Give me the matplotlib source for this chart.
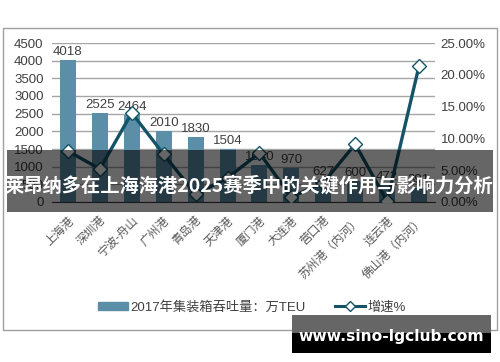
import matplotlib
matplotlib.use("Agg")
import matplotlib.pyplot as plt
from matplotlib.patches import Rectangle
from matplotlib.lines import Line2D
import numpy as np

plt.rcParams['font.family'] = ['Liberation Sans', 'Noto Sans CJK SC', 'DejaVu Sans']

categories = ['上海港', '深圳港', '宁波-舟山', '广州港', '青岛港', '天津港', '厦门港',
              '大连港', '营口港', '苏州港（内河）', '连云港', '佛山港（内河）']
throughput = [4018, 2525, 2464, 2010, 1830, 1504, 1040, 970, 627, 600, 472, 391]
growth = [8.0, 5.2, 14.0, 7.5, 1.2, 3.8, 7.7, 0.8, 3.0, 9.1, 0.1, 21.4]
left_ticks = [0, 500, 1000, 1500, 2000, 2500, 3000, 3500, 4000, 4500]
right_ticks = [0, 5, 10, 15, 20, 25]

bar_color = '#5b8fa8'
line_color = '#145468'
text_color = '#404040'

fig = plt.figure(figsize=(5.0, 3.62), dpi=100)
W, H = 500, 362

# chart border
fig.patches.append(Rectangle((3 / W, 1 - 330 / H), 494 / W, 302 / H, transform=fig.transFigure,
                             fill=False, edgecolor='#a0a0a0', linewidth=1.0))

ax = fig.add_axes([52 / W, 1 - 202 / H, 383 / W, 159 / H])
x = np.arange(len(categories))
ax.bar(x, throughput, width=0.5, color=bar_color, zorder=2)
ax.set_xlim(-0.5, len(categories) - 0.5)
ax.set_ylim(0, 4500)
ax.set_yticks(left_ticks)
ax.set_yticklabels([str(t) for t in left_ticks], fontsize=9.5, color=text_color)
ax.yaxis.grid(True, color='#a6a6a6', linewidth=1.0, zorder=0)
ax.set_axisbelow(True)
for s in ['top', 'right', 'left']:
    ax.spines[s].set_visible(False)
ax.spines['bottom'].set_color('#404040')
ax.tick_params(axis='y', length=0, pad=6)
ax.tick_params(axis='x', length=0, pad=9)
ax.set_xticks(x)
ax.set_xticklabels(categories, rotation=45, ha='right', rotation_mode='anchor',
                   fontsize=8.5, color='#595959')
for xi, v in zip(x, throughput):
    ax.text(xi, v + 60, str(v), ha='center', va='bottom', fontsize=9.5, color=text_color, zorder=5)

ax2 = ax.twinx()
ax2.plot(x, growth, color=line_color, linewidth=2.4, marker='D', markersize=7,
         markerfacecolor='white', markeredgecolor=line_color, markeredgewidth=1.0, zorder=4)
ax2.set_ylim(0, 25)
ax2.set_yticks(right_ticks)
ax2.set_yticklabels(['%.2f%%' % t for t in right_ticks], fontsize=9.5, color=text_color)
ax2.tick_params(axis='y', length=0, pad=4)
for s in ['top', 'right', 'left', 'bottom']:
    ax2.spines[s].set_visible(False)

# legend
handles = [Rectangle((0, 0), 1, 1, color=bar_color),
           Line2D([0], [0], color=line_color, linewidth=2.2, marker='D', markersize=5,
                  markerfacecolor='white', markeredgecolor=line_color)]
fig.legend(handles, ['2017年集装箱吞吐量：万TEU', '增速%'], loc='center',
           bbox_to_anchor=(252 / W, 1 - 307 / H), ncol=2, frameon=False, fontsize=9.5,
           handlelength=2.3, handleheight=0.6, columnspacing=2.2, handletextpad=0.2,
           labelcolor=text_color)

# title overlay band
fig.patches.append(Rectangle((7 / W, 1 - 212 / H), 486 / W, 62 / H, transform=fig.transFigure,
                             facecolor='black', alpha=0.6, edgecolor='none', zorder=10))
fig.text(249 / W, 1 - 185 / H, '莱昂纳多在上海海港2025赛季中的关键作用与影响力分析',
         ha='center', va='center', fontsize=13.9, fontweight='bold', color='white',
         family=['Noto Sans CJK SC', 'DejaVu Sans'], zorder=11)

# watermark box
fig.patches.append(Rectangle((292 / W, 1 - 353 / H), 199 / W, 38 / H, transform=fig.transFigure,
                             facecolor='black', edgecolor='none', zorder=10))
fig.patches.append(Rectangle((292 / W, 1 - 333 / H), 199 / W, 18 / H, transform=fig.transFigure,
                             facecolor='#666666', edgecolor='none', zorder=10))
fig.text(391 / W, 1 - 337 / H, 'www.sino-lgclub.com', ha='center', va='center',
         fontsize=11.2, fontweight='bold', color='white', family=['DejaVu Sans'], zorder=11)

fig.savefig('out.png', dpi=100)
